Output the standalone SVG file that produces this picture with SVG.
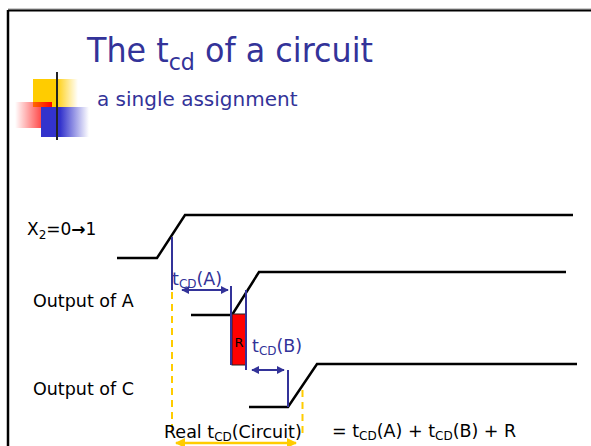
<svg xmlns="http://www.w3.org/2000/svg" width="591" height="446" viewBox="0 0 591 446">
<defs>
<style>
.t{font-family:"DejaVu Sans",Verdana,sans-serif;}
.blue{fill:#333399;}
.blk{fill:#000;}
.wave{fill:none;stroke:#000;stroke-width:2.5;}
.bl{stroke:#333399;stroke-width:2;fill:none;}
.yd{stroke:#FFCC00;stroke-width:2;stroke-dasharray:7,5;fill:none;}
</style>
<linearGradient id="gy" x1="0" x2="1" y1="0" y2="0"><stop offset="0.5" stop-color="#FFCC00"/><stop offset="1" stop-color="#FFCC00" stop-opacity="0"/></linearGradient>
<linearGradient id="gr" x1="0" x2="1" y1="0" y2="0"><stop offset="0" stop-color="#FF0000" stop-opacity="0"/><stop offset="1" stop-color="#FF0000"/></linearGradient>
<linearGradient id="gb" x1="0" x2="1" y1="0" y2="0"><stop offset="0.4" stop-color="#3333CC"/><stop offset="1" stop-color="#3333CC" stop-opacity="0"/></linearGradient>
<linearGradient id="gl" x1="0" x2="1" y1="0" y2="0"><stop offset="0" stop-color="#000"/><stop offset="0.3" stop-color="#777"/><stop offset="1" stop-color="#fff"/></linearGradient>
<marker id="ab" viewBox="0 0 10 10" refX="9" refY="5" markerWidth="4" markerHeight="4" orient="auto-start-reverse"><path d="M0,0 L10,5 L0,10 z" fill="#333399"/></marker>
<marker id="ay" viewBox="0 0 10 10" refX="9" refY="5" markerWidth="4" markerHeight="4" orient="auto-start-reverse"><path d="M0,0 L10,5 L0,10 z" fill="#FFCC00"/></marker>
</defs>
<rect width="591" height="446" fill="#fff"/>
<line x1="8" y1="9" x2="591" y2="9" stroke="#999" stroke-width="1"/>
<line x1="8" y1="10.5" x2="591" y2="10.5" stroke="#000" stroke-width="2"/>
<line x1="8" y1="10" x2="8" y2="446" stroke="#000" stroke-width="2.5"/>
<g id="logo">
<rect x="33" y="79" width="45" height="28" fill="url(#gy)"/>
<rect x="15" y="102" width="37" height="26" fill="url(#gr)"/>
<rect x="41" y="107" width="48" height="30" fill="url(#gb)"/>
<line x1="36" y1="125" x2="591" y2="125" stroke="url(#gl)" stroke-width="2"/>
<line x1="57" y1="72" x2="57" y2="140" stroke="#222" stroke-width="2"/>
</g>
<g id="title">
<text class="t blue" x="87" y="62" font-size="33" textLength="286" lengthAdjust="spacingAndGlyphs">The t<tspan font-size="23" dy="8">cd</tspan><tspan dy="-8"> of a circuit</tspan></text>
<text class="t blue" x="97" y="106" font-size="20">a single assignment</text>
</g>
<g id="labels">
<text class="t blk" x="27" y="235" font-size="17">X<tspan font-size="12" dy="4">2</tspan><tspan dy="-4">=0</tspan><tspan font-weight="bold">→</tspan><tspan>1</tspan></text>
<text class="t blk" x="33" y="307" font-size="17.5">Output of A</text>
<text class="t blk" x="33" y="395" font-size="17.5">Output of C</text>
</g>
<g id="waves">
<polyline class="wave" points="117,258 157,258 185,215 573,215"/>
<polyline class="wave" points="191,315 232,315 259,272 566,272"/>
<polyline class="wave" points="249,407 288,407 317,364 577,364"/>
</g>
<g id="R">
<rect x="232" y="314" width="14" height="51" fill="#FF0000" stroke="#222" stroke-width="1"/>
<text class="t blk" x="239" y="347" font-size="13" text-anchor="middle">R</text>
</g>
<g id="connectors">
<line class="bl" x1="172" y1="237" x2="172" y2="290"/>
<line class="yd" x1="172" y1="292" x2="172" y2="432"/>
<line class="bl" x1="231" y1="286" x2="231" y2="365"/>
<line class="bl" x1="246" y1="290" x2="246" y2="370"/>
<line class="bl" x1="288" y1="370" x2="288" y2="407"/>
<line class="yd" x1="302.5" y1="390" x2="302.5" y2="436"/>
<line class="bl" x1="182" y1="290" x2="228" y2="290" marker-start="url(#ab)" marker-end="url(#ab)"/>
<line class="bl" x1="252" y1="370" x2="284" y2="370" marker-start="url(#ab)" marker-end="url(#ab)"/>
<line x1="176" y1="443" x2="296" y2="443" stroke="#FFCC00" stroke-width="2.5" marker-start="url(#ay)" marker-end="url(#ay)"/>
</g>
<g id="annotations">
<text class="t blue" x="172" y="285" font-size="17.5">t<tspan font-size="12" dy="3">CD</tspan><tspan dy="-3">(A)</tspan></text>
<text class="t blue" x="252" y="352" font-size="17.5">t<tspan font-size="12" dy="3">CD</tspan><tspan dy="-3">(B)</tspan></text>
<text class="t blk" x="164" y="438" font-size="17.5">Real t<tspan font-size="12" dy="3">CD</tspan><tspan dy="-3">(Circuit)</tspan></text>
<text class="t blk" x="332" y="437" font-size="17.5">= t<tspan font-size="12" dy="3">CD</tspan><tspan dy="-3">(A) + t</tspan><tspan font-size="12" dy="3">CD</tspan><tspan dy="-3">(B) + R</tspan></text>
</g>
</svg>
